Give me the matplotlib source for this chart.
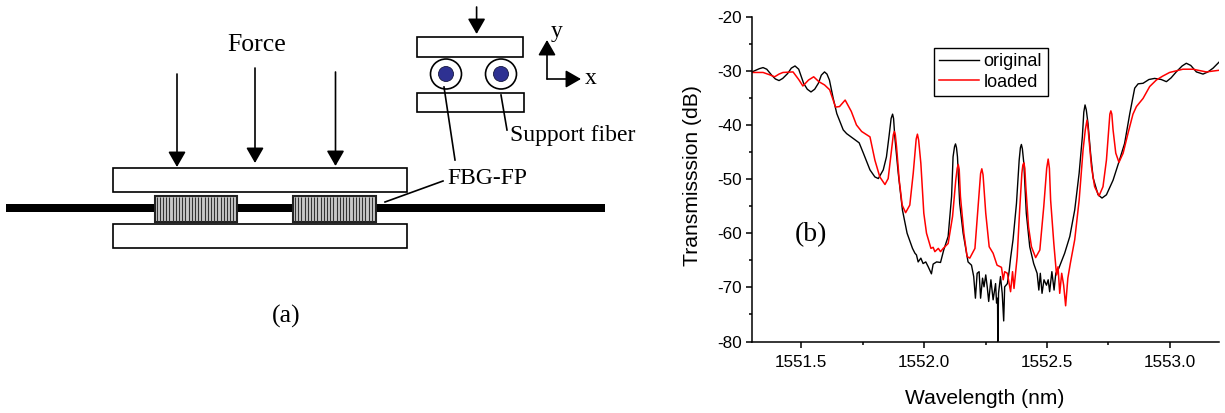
import matplotlib
matplotlib.use("Agg")
import matplotlib.pyplot as plt
from matplotlib.patches import Rectangle, Ellipse

plt.rcParams['font.family'] = ['Liberation Sans', 'DejaVu Sans']
plt.rcParams['axes.unicode_minus'] = False
SERIF = ['Liberation Serif', 'DejaVu Serif']

orig_pairs = [
    (1551.300,-30.2),(1551.330,-29.6),(1551.345,-29.4),(1551.360,-29.7),(1551.380,-30.8),(1551.395,-31.5),(1551.410,-31.8),
    (1551.425,-31.4),(1551.445,-30.5),(1551.460,-29.5),(1551.475,-29.1),(1551.490,-29.7),(1551.510,-32.3),(1551.525,-33.4),
    (1551.540,-33.9),(1551.555,-33.4),(1551.570,-32.3),(1551.582,-30.8),(1551.595,-30.2),(1551.605,-30.6),(1551.615,-31.7),
    (1551.630,-35.0),(1551.645,-37.9),(1551.671,-40.9),(1551.685,-41.6),(1551.712,-42.5),(1551.736,-43.3),(1551.753,-45.2),
    (1551.780,-48.3),(1551.800,-49.6),(1551.814,-49.9),(1551.834,-48.3),(1551.847,-45.9),(1551.858,-41.9),(1551.866,-38.8),
    (1551.872,-38.0),(1551.876,-38.8),(1551.881,-42.2),(1551.895,-48.9),(1551.912,-55.7),(1551.931,-60.0),(1551.953,-62.8),
    (1551.963,-63.7),(1551.969,-64.0),(1551.976,-65.3),(1551.987,-64.6),(1551.996,-65.6),(1552.007,-65.3),(1552.017,-66.2),
    (1552.030,-67.5),(1552.037,-65.7),(1552.051,-65.3),(1552.067,-65.4),(1552.080,-63.1),(1552.098,-60.6),(1552.112,-53.2),
    (1552.118,-45.9),(1552.124,-44.0),(1552.128,-43.5),(1552.132,-44.2),(1552.136,-45.9),(1552.145,-54.5),(1552.159,-60.0),
    (1552.179,-65.3),(1552.193,-65.9),(1552.202,-68.0),(1552.209,-72.0),(1552.216,-67.4),(1552.224,-67.1),(1552.230,-72.0),
    (1552.238,-68.3),(1552.244,-69.9),(1552.251,-67.7),(1552.257,-69.9),(1552.263,-72.6),(1552.272,-68.6),(1552.281,-72.3),
    (1552.291,-69.3),(1552.295,-72.9),(1552.299,-72.0),(1552.300,-80.0),(1552.303,-71.1),(1552.311,-68.0),(1552.318,-71.1),
    (1552.324,-76.2),(1552.328,-69.9),(1552.339,-69.3),(1552.346,-67.1),(1552.352,-64.6),(1552.362,-61.2),(1552.376,-54.5),
    (1552.387,-46.5),(1552.392,-44.2),(1552.396,-43.6),(1552.400,-44.4),(1552.406,-47.1),(1552.416,-56.3),(1552.430,-62.5),
    (1552.446,-65.6),(1552.460,-67.4),(1552.467,-70.5),(1552.473,-67.4),(1552.480,-71.1),(1552.488,-68.6),(1552.498,-69.6),
    (1552.505,-68.6),(1552.511,-70.8),(1552.520,-67.1),(1552.529,-70.5),(1552.536,-67.4),(1552.548,-66.5),(1552.572,-63.7),
    (1552.593,-60.6),(1552.613,-55.7),(1552.631,-48.9),(1552.644,-42.2),(1552.650,-37.6),(1552.655,-36.3),(1552.660,-37.2),
    (1552.667,-39.7),(1552.678,-45.5),(1552.688,-49.8),(1552.708,-52.9),(1552.724,-53.5),(1552.742,-52.9),(1552.769,-50.2),
    (1552.793,-46.8),(1552.816,-43.4),(1552.837,-37.9),(1552.857,-33.2),(1552.871,-32.4),(1552.891,-32.3),(1552.915,-31.6),
    (1552.938,-31.4),(1552.965,-31.6),(1552.986,-32.0),(1553.005,-31.3),(1553.026,-30.2),(1553.050,-29.1),(1553.067,-28.6),
    (1553.085,-29.0),(1553.108,-30.2),(1553.135,-30.6),(1553.155,-30.2),(1553.176,-29.5),(1553.200,-28.4)]

load_pairs = [
    (1551.300,-30.3),(1551.345,-30.3),(1551.370,-30.7),(1551.392,-31.1),(1551.410,-30.6),(1551.426,-30.3),(1551.467,-30.2),
    (1551.490,-31.6),(1551.507,-32.8),(1551.530,-31.7),(1551.551,-31.1),(1551.572,-32.0),(1551.595,-32.6),(1551.616,-33.5),
    (1551.640,-36.7),(1551.656,-36.6),(1551.679,-35.4),(1551.704,-37.5),(1551.725,-40.0),(1551.746,-41.2),(1551.780,-42.2),
    (1551.800,-46.5),(1551.820,-49.6),(1551.841,-51.0),(1551.854,-49.9),(1551.868,-44.6),(1551.875,-41.8),(1551.879,-41.2),
    (1551.883,-41.8),(1551.888,-44.0),(1551.899,-50.2),(1551.911,-54.8),(1551.925,-56.2),(1551.942,-54.8),(1551.956,-48.9),
    (1551.968,-42.6),(1551.973,-41.7),(1551.978,-42.8),(1551.987,-47.1),(1551.999,-56.3),(1552.010,-60.0),(1552.028,-62.8),
    (1552.037,-62.6),(1552.044,-63.4),(1552.058,-62.8),(1552.067,-63.4),(1552.078,-62.8),(1552.098,-61.9),(1552.116,-56.9),
    (1552.129,-50.2),(1552.135,-48.0),(1552.139,-47.3),(1552.143,-48.2),(1552.148,-53.2),(1552.162,-60.0),(1552.175,-64.3),
    (1552.186,-64.6),(1552.207,-62.8),(1552.220,-55.1),(1552.230,-49.0),(1552.235,-48.1),(1552.240,-49.2),(1552.251,-56.3),
    (1552.265,-62.5),(1552.281,-63.7),(1552.297,-65.9),(1552.315,-66.3),(1552.322,-68.6),(1552.328,-67.1),(1552.339,-67.4),
    (1552.352,-70.8),(1552.360,-67.1),(1552.366,-70.2),(1552.379,-64.3),(1552.389,-55.7),(1552.398,-48.9),(1552.402,-47.4),
    (1552.406,-47.0),(1552.410,-48.0),(1552.414,-51.4),(1552.425,-58.8),(1552.437,-62.5),(1552.454,-64.5),(1552.471,-63.1),
    (1552.487,-55.1),(1552.499,-48.0),(1552.505,-46.3),(1552.510,-48.0),(1552.515,-53.9),(1552.528,-61.9),(1552.539,-67.7),
    (1552.545,-66.2),(1552.552,-71.1),(1552.560,-67.4),(1552.568,-69.6),(1552.576,-73.4),(1552.585,-68.3),(1552.595,-65.6),
    (1552.613,-61.2),(1552.631,-53.9),(1552.647,-44.6),(1552.656,-40.9),(1552.663,-39.1),(1552.668,-41.0),(1552.681,-47.7),
    (1552.694,-51.4),(1552.712,-53.1),(1552.728,-51.4),(1552.742,-46.5),(1552.749,-42.2),(1552.756,-38.0),(1552.760,-37.4),
    (1552.764,-38.0),(1552.769,-40.9),(1552.780,-45.2),(1552.793,-46.9),(1552.810,-45.2),(1552.830,-41.5),(1552.850,-38.0),
    (1552.864,-36.6),(1552.891,-35.1),(1552.918,-32.9),(1552.945,-31.7),(1552.970,-31.0),(1552.999,-30.3),(1553.053,-29.7),
    (1553.094,-29.7),(1553.148,-30.2),(1553.200,-29.9)]

orig_wl = [p[0] for p in orig_pairs]
orig_db = [p[1] for p in orig_pairs]
load_wl = [p[0] for p in load_pairs]
load_db = [p[1] for p in load_pairs]

series_names = ['original', 'loaded']
x_ticks = [1551.5, 1552.0, 1552.5, 1553.0]
y_ticks = [-20, -30, -40, -50, -60, -70, -80]

W, H = 1225, 413
fig = plt.figure(figsize=(W / 100, H / 100), dpi=100, facecolor='white')

# ---------- panel (a): schematic, in pixel coordinates ----------
d = fig.add_axes([0, 0, 1, 1])
d.set_xlim(0, W)
d.set_ylim(H, 0)
d.axis('off')


def box(x0, y0, x1, y1, **kw):
    kw.setdefault('fc', 'white')
    kw.setdefault('ec', 'black')
    kw.setdefault('lw', 1.2)
    d.add_patch(Rectangle((x0, y0), x1 - x0, y1 - y0, **kw))


def arrow(x0, y0, x1, y1, w=15, l=13):
    d.annotate('', xy=(x1, y1), xytext=(x0, y0),
               arrowprops=dict(arrowstyle=f'-|>,head_length={l / 12:.2f},head_width={w / 24:.2f}',
                               color='black', lw=1.2, shrinkA=0, shrinkB=0, mutation_scale=8.64))


box(6, 204, 605, 212, fc='black', ec='black', lw=0)
box(112.5, 168, 407, 192)
box(112.5, 224, 407, 248)
for x0, x1 in [(154.7, 237), (293, 375.6)]:
    box(x0, 196, x1, 222, fc='#c8c8c8', ec='#222222', lw=1.5)
    x = x0 + 2
    while x < x1 - 1:
        d.plot([x, x], [197, 221], color='#333333', lw=0.8, solid_capstyle='butt')
        x += 3.2

for x, y0, y1 in [(177, 74, 167), (255, 68, 163), (335.5, 72, 166)]:
    arrow(x, y0, x, y1)
arrow(476.6, 7, 476.6, 34)

box(416.5, 37, 523, 57)
box(417, 93, 524, 112)
for cx in (446, 501):
    d.add_patch(Ellipse((cx, 74), 31, 30, fc='white', ec='black', lw=1.2))
    d.add_patch(Ellipse((cx, 74), 15, 15, fc='#2e3192', ec='#15173f', lw=0.6))

arrow(547, 79, 547, 40)
arrow(547, 79, 581, 79)
for (x0, y0), (x1, y1) in [((444, 87), (455, 160)), ((501, 95), (507, 130)), ((443, 181), (385, 202))]:
    d.plot([x0, x1], [y0, y1], color='black', lw=1.2)

for s, x, y, fs in [('Force', 256.5, 45, 18.5), ('(a)', 286, 316, 18.5), ('FBG-FP', 487, 178, 17),
                    ('Support fiber', 572.5, 135, 17), ('y', 557, 31, 17), ('x', 591, 79, 17),
                    ('(b)', 811, 235, 20)]:
    d.text(x, y, s, family=SERIF, fontsize=fs, ha='center', va='center', color='black')

# ---------- panel (b): spectrum ----------
L, R, T, B = 752, 1219, 16.7, 341.5
ax = fig.add_axes([L / W, 1 - B / H, (R - L) / W, (B - T) / H])
ax.patch.set_alpha(0)
ax.plot(orig_wl, orig_db, color='black', lw=1.0, label=series_names[0], solid_joinstyle='round')
ax.plot(load_wl, load_db, color='red', lw=1.1, label=series_names[1], solid_joinstyle='round')
ax.set_xlim(1551.3, 1553.2)
ax.set_ylim(-80, -20)
ax.set_xticks(x_ticks)
ax.set_xticklabels([f'{v:.1f}' for v in x_ticks])
ax.set_yticks(y_ticks)
ax.set_xticks([1551.75, 1552.25, 1552.75], minor=True)
ax.set_yticks([-25, -35, -45, -55, -65, -75], minor=True)
ax.tick_params(axis='both', which='major', length=4.3, width=1.1, labelsize=12.3)
ax.tick_params(axis='x', which='major', pad=5.5)
ax.tick_params(axis='y', which='major', pad=3)
ax.tick_params(axis='both', which='minor', length=2.2, width=1.1)
for s in ('top', 'right'):
    ax.spines[s].set_visible(False)
for s in ('left', 'bottom'):
    ax.spines[s].set_linewidth(1.1)
ax.set_xlabel('Wavelength (nm)', fontsize=15.1, va='center')
ax.set_ylabel('Transmisssion (dB)', fontsize=15.2, va='center')
ax.xaxis.set_label_coords((985 - L) / (R - L), (B - 398) / (B - T))
ax.yaxis.set_label_coords((693 - L) / (R - L), (B - 176) / (B - T))
leg = ax.legend(loc='upper left', bbox_to_anchor=((934 - L) / (R - L), 1 - (47.7 - T) / (B - T)),
                borderaxespad=0, frameon=True, fancybox=False, edgecolor='black', framealpha=1,
                fontsize=13, handlelength=2.17, handletextpad=0.28, labelspacing=0.2,
                borderpad=0.3)
leg.get_frame().set_linewidth(1.0)

fig.savefig('out.png', dpi=100)
